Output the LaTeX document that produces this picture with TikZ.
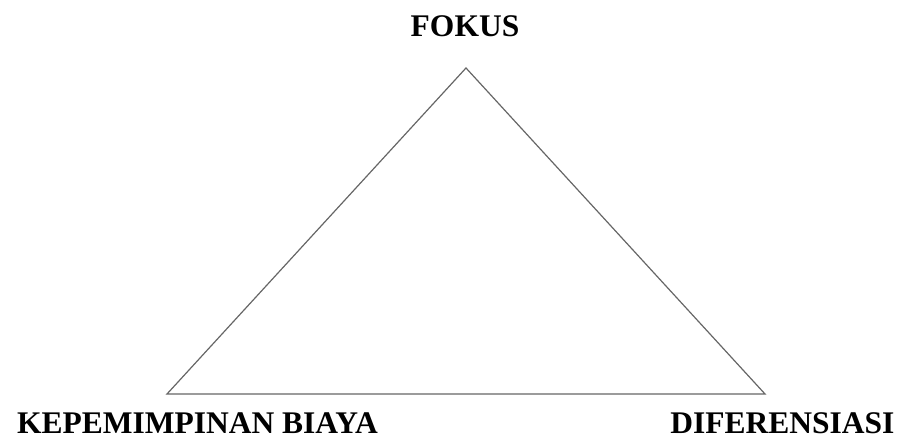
\documentclass[tikz,border=0pt]{standalone}
\usepackage{fontspec}
\setmainfont{Liberation Serif}
\usepackage{tikz}

\begin{document}
\begin{tikzpicture}[
    x=1pt, y=1pt,
    edge/.style={draw=black!60, line width=1.2pt, line join=miter},
    strategy/.style={font=\fontsize{31.5}{36}\selectfont\bfseries, inner sep=0pt, anchor=base},
]
    \useasboundingbox (0,0) rectangle (900,438);

    % Corners
    \coordinate (apex) at (466,370);
    \coordinate (cost) at (167,44);
    \coordinate (diff) at (765,44);

    % Triangle
    \draw[edge] (apex) -- (cost) -- (diff) -- cycle;

    % Labels
    \node[strategy] (focus) at (465,401) {FOKUS};
    \node[strategy] (leader) at (197.5,4) {KEPEMIMPINAN BIAYA};
    \node[strategy] (differ) at (782.5,4) {DIFERENSIASI};
\end{tikzpicture}
\end{document}
